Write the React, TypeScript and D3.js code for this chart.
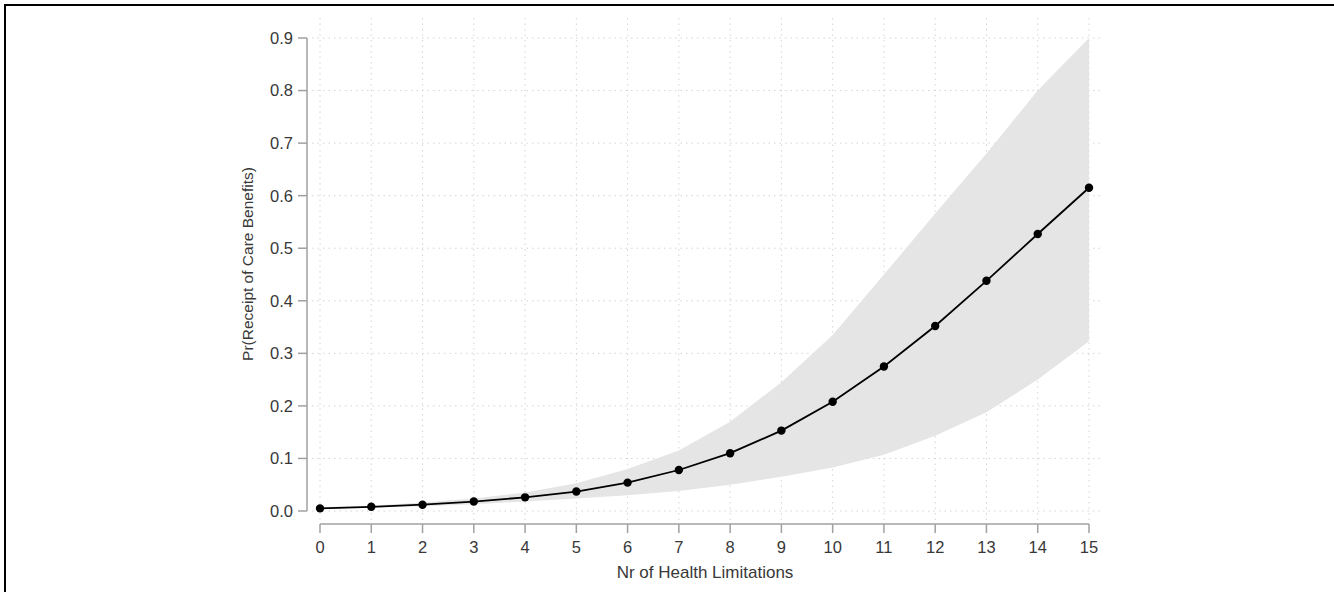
import React, { useEffect, useRef } from "react";
import * as d3 from "d3";

const limits = [0, 1, 2, 3, 4, 5, 6, 7, 8, 9, 10, 11, 12, 13, 14, 15];
const predicted = [0.005, 0.008, 0.012, 0.018, 0.026, 0.037, 0.054, 0.078, 0.110, 0.153, 0.208, 0.275, 0.352, 0.438, 0.527, 0.615];
const upper = [0.007, 0.010, 0.016, 0.024, 0.035, 0.053, 0.080, 0.115, 0.170, 0.245, 0.335, 0.450, 0.566, 0.680, 0.800, 0.900];
const lower = [0.004, 0.006, 0.009, 0.013, 0.018, 0.024, 0.030, 0.038, 0.050, 0.065, 0.083, 0.107, 0.143, 0.188, 0.250, 0.323];
const yTicks = [0, 0.1, 0.2, 0.3, 0.4, 0.5, 0.6, 0.7, 0.8, 0.9];

const App = () => {
  const svgRef = useRef<SVGSVGElement | null>(null);

  useEffect(() => {
    const width = 1334;
    const height = 592;
    const svg = d3.select(svgRef.current);
    svg.selectAll("*").remove();
    svg.attr("width", width).attr("height", height);

    const font = "'Liberation Sans', Arial, sans-serif";
    const x = d3.scaleLinear().domain([0, 15]).range([320, 1089]);
    const y = d3.scaleLinear().domain([0, 0.9]).range([511, 38]);

    svg.append("rect").attr("width", width).attr("height", height).attr("fill", "#fff");

    // frame (only top and left edge are visible)
    svg.append("rect")
      .attr("x", 5).attr("y", 5)
      .attr("width", width).attr("height", height)
      .attr("fill", "none").attr("stroke", "#000").attr("stroke-width", 2);

    // grid
    const grid = svg.append("g");
    grid.selectAll(".vg").data(limits).enter().append("line")
      .attr("x1", (d) => x(d)).attr("x2", (d) => x(d))
      .attr("y1", 18).attr("y2", 521)
      .attr("stroke", "#d4d4d4").attr("stroke-width", 1).attr("stroke-dasharray", "1.5,4");
    grid.selectAll(".hg").data(yTicks).enter().append("line")
      .attr("x1", 312).attr("x2", 1100)
      .attr("y1", (d) => y(d)).attr("y2", (d) => y(d))
      .attr("stroke", "#d4d4d4").attr("stroke-width", 1).attr("stroke-dasharray", "1.5,4");

    // confidence band
    const area = d3.area<number>()
      .x((d) => x(d))
      .y0((d, i) => y(lower[i]))
      .y1((d, i) => y(upper[i]));
    svg.append("path").datum(limits).attr("d", area).attr("fill", "#e5e5e5");

    // line + points
    const line = d3.line<number>().x((d) => x(d)).y((d, i) => y(predicted[i]));
    svg.append("path").datum(limits).attr("d", line)
      .attr("fill", "none").attr("stroke", "#000").attr("stroke-width", 1.8);
    svg.selectAll(".pt").data(limits).enter().append("circle")
      .attr("cx", (d) => x(d)).attr("cy", (d, i) => y(predicted[i]))
      .attr("r", 4.2).attr("fill", "#000");

    const axisColor = "#a0a0a0";
    const textColor = "#383838";

    // y axis
    svg.append("line").attr("x1", 307).attr("x2", 307)
      .attr("y1", y(0)).attr("y2", y(0.9))
      .attr("stroke", axisColor).attr("stroke-width", 1.5);
    svg.selectAll(".yt").data(yTicks).enter().append("line")
      .attr("x1", 298).attr("x2", 307)
      .attr("y1", (d) => y(d)).attr("y2", (d) => y(d))
      .attr("stroke", axisColor).attr("stroke-width", 1.5);
    svg.selectAll(".yl").data(yTicks).enter().append("text")
      .attr("x", 293).attr("y", (d) => y(d)).attr("dy", "0.36em")
      .attr("text-anchor", "end").attr("fill", textColor)
      .style("font-family", font).style("font-size", "16.5px")
      .text((d) => d3.format(".1f")(d));
    svg.append("text")
      .attr("transform", "translate(253,264) rotate(-90)")
      .attr("text-anchor", "middle").attr("fill", textColor)
      .style("font-family", font).style("font-size", "15.5px")
      .text("Pr(Receipt of Care Benefits)");

    // x axis
    svg.append("line").attr("x1", x(0)).attr("x2", x(15))
      .attr("y1", 524).attr("y2", 524)
      .attr("stroke", axisColor).attr("stroke-width", 1.5);
    svg.selectAll(".xt").data(limits).enter().append("line")
      .attr("x1", (d) => x(d)).attr("x2", (d) => x(d))
      .attr("y1", 524).attr("y2", 533)
      .attr("stroke", axisColor).attr("stroke-width", 1.5);
    svg.selectAll(".xl").data(limits).enter().append("text")
      .attr("x", (d) => x(d)).attr("y", 553)
      .attr("text-anchor", "middle").attr("fill", textColor)
      .style("font-family", font).style("font-size", "16.5px")
      .text((d) => String(d));
    svg.append("text")
      .attr("x", 705).attr("y", 578)
      .attr("text-anchor", "middle").attr("fill", textColor)
      .style("font-family", font).style("font-size", "17px")
      .text("Nr of Health Limitations");
  }, []);

  return <svg ref={svgRef} style={{ position: "absolute", left: 0, top: 0 }}></svg>;
};

export default App;
